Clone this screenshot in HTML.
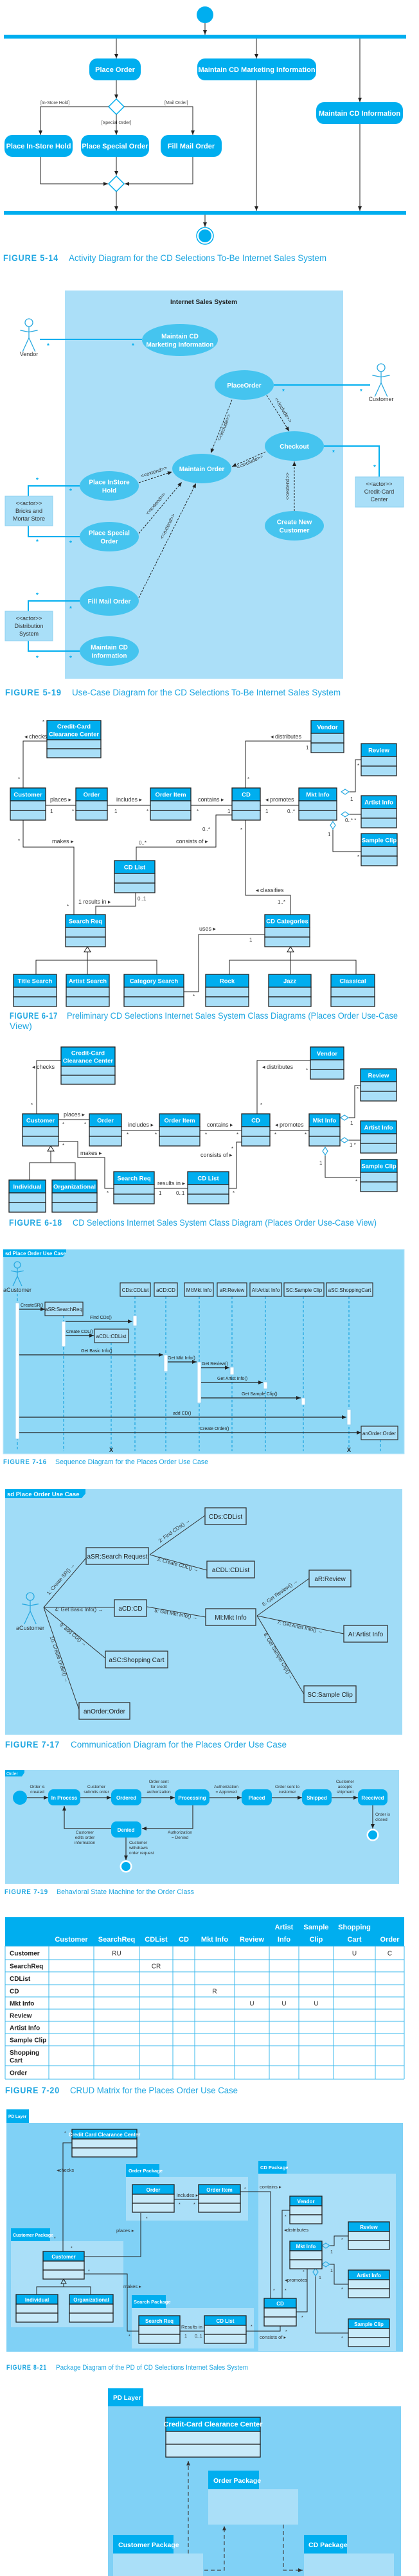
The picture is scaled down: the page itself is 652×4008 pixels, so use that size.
<!DOCTYPE html>
<html><head><meta charset="utf-8"><title>CD Selections UML Figures</title>
<style>
html,body{margin:0;padding:0;background:#fff;}
svg{display:block;font-family:"Liberation Sans",sans-serif;}
</style></head>
<body>
<svg id="c" width="652" height="4008" viewBox="0 0 652 4008" xmlns="http://www.w3.org/2000/svg">
<defs>
<marker id="ar" markerWidth="8" markerHeight="8" refX="7" refY="4" orient="auto" markerUnits="userSpaceOnUse"><path d="M0,1 L7,4 L0,7 z" fill="#222"/></marker>
<marker id="arb" markerWidth="8" markerHeight="8" refX="7" refY="4" orient="auto" markerUnits="userSpaceOnUse"><path d="M0,1 L7,4 L0,7 z" fill="#333"/></marker>
</defs>
</svg>
<script>
const NS='http://www.w3.org/2000/svg';
const svg=document.getElementById('c');
const BLUE='#00AEEF', LB='#A9DFF8', CAP='#1EA6E1', ELL='#45C4EF';

// CRUD matrix data
const crudCols=['Customer','SearchReq','CDList','CD','Mkt Info','Review','Artist Info','Sample Clip','Shopping Cart','Order'];
const crudRows=['Customer','SearchReq','CDList','CD','Mkt Info','Review','Artist Info','Sample Clip','Shopping Cart','Order'];
const crudCells=[
 ['','RU','','','','','','','U','C'],
 ['','','CR','','','','','','',''],
 ['','','','','','','','','',''],
 ['','','','','R','','','','',''],
 ['','','','','','U','U','U','',''],
 ['','','','','','','','','',''],
 ['','','','','','','','','',''],
 ['','','','','','','','','',''],
 ['','','','','','','','','',''],
 ['','','','','','','','','','']
];

function add(tag,attrs,name,inter){
  const el=document.createElementNS(NS,tag);
  for(const k in attrs) el.setAttribute(k,attrs[k]);
  
  
  svg.appendChild(el);
  return el;
}
function R(x,y,w,h,fill,name,o){o=o||{};return add('rect',{x:x,y:y,width:w,height:h,fill:fill,stroke:o.st||'none','stroke-width':o.sw||1,rx:o.rx||0},name,o.i);}
function T(x,y,s,o,name){
  o=o||{};
  const a={x:x,y:y,'font-size':o.s||9,fill:o.f||'#222','text-anchor':o.a||'start','font-weight':o.w||'normal'};
  if(o.tl){a.textLength=o.tl;a.lengthAdjust='spacingAndGlyphs';}
  if(o.rot!==undefined){a.transform='rotate('+o.rot+' '+x+' '+y+')';}
  if(o.ls) a['letter-spacing']=o.ls;
  const el=add('text',a,name||'label',false);
  el.textContent=s;
  return el;
}
function TL(x,y,lines,lh,o,name){lines.forEach((l,i)=>T(x,y+i*lh,l,o,name));}
function L(pts,o,name){o=o||{};
  const a={points:pts.map(p=>p.join(',')).join(' '),fill:'none',stroke:o.c||'#222','stroke-width':o.w||1};
  if(o.d) a['stroke-dasharray']=o.d;
  if(o.m) a['marker-end']='url(#'+o.m+')';
  return add('polyline',a,name||'connector',false);}
function C(cx,cy,r,fill,name,o){o=o||{};return add('circle',{cx:cx,cy:cy,r:r,fill:fill,stroke:o.st||'none','stroke-width':o.sw||1},name,false);}
function cap(y,fig,txt,fx,fw,tx,tw,s){
  T(fx,y,fig,{s:s,f:CAP,w:'bold',tl:fw,ls:1},'figure-number');
  T(tx,y,txt,{s:s,f:CAP,tl:tw},'figure-caption');
}
function act(x,y,w,h,label,name){
  R(x,y,w,h,BLUE,name,{rx:12});
  T(x+w/2,y+h/2+4,label,{s:11,f:'#fff',a:'middle',w:'bold'},name+'-label');
}
function diamond(cx,cy,name){add('polygon',{points:`${cx},${cy-12} ${cx+12},${cy} ${cx},${cy+12} ${cx-12},${cy}`,fill:'#fff',stroke:BLUE,'stroke-width':1.5},name,false);}
function ell(cx,cy,rx,ry,lines,name){
  add('ellipse',{cx:cx,cy:cy,rx:rx,ry:ry,fill:ELL},name,true);
  const n=lines.length; lines.forEach((l,i)=>T(cx,cy+4+(i-(n-1)/2)*13,l,{s:10,f:'#fff',a:'middle',w:'bold'},name+'-label'));
}
function actor(x,hy,r,len,label,ly,name){
  C(x,hy,r,'none',name+'-head',{st:'#29A9E0',sw:1.3});
  L([[x,hy+r],[x,hy+r+len*0.45]],{c:'#29A9E0',w:1.3},name+'-body');
  L([[x-len*0.35,hy+r+len*0.15],[x,hy+r+len*0.22],[x+len*0.35,hy+r+len*0.15]],{c:'#29A9E0',w:1.3},name+'-arms');
  L([[x-len*0.25,hy+r+len],[x,hy+r+len*0.45],[x+len*0.25,hy+r+len]],{c:'#29A9E0',w:1.3},name+'-legs');
  T(x,ly,label,{s:9,a:'middle',f:'#333'},name+'-label');
}
function cls(x,y,w,label,name,o){
  o=o||{};const hh=o.hh||20,ch=o.ch||15,cf=o.cf||LB;
  R(x,y,w,hh,BLUE,name+'-header',{st:'#222',sw:1.3});
  R(x,y+hh,w,ch,cf,name+'-attributes',{st:'#222',sw:1.3});
  R(x,y+hh+ch,w,ch,cf,name+'-operations',{st:'#222',sw:1.3});
  const ls=Array.isArray(label)?label:[label];
  ls.forEach((l,i)=>T(x+w/2,y+(hh/2+3.5)+(i-(ls.length-1)/2)*12,l,{s:o.s||9.5,f:'#fff',a:'middle',w:'bold'},name+'-name'));
}
function lbl(x1,y1,x2,y2,s,off,name,o){
  o=o||{};
  const ang=Math.atan2(y2-y1,x2-x1)*180/Math.PI;
  const t=o.t||0.5;
  const mx=x1+(x2-x1)*t, my=y1+(y2-y1)*t;
  const nx=-(y2-y1),ny=(x2-x1),nl=Math.hypot(nx,ny);
  let a=ang; if(a>90)a-=180; if(a<-90)a+=180;
  T(mx+nx/nl*off,my+ny/nl*off,s,{s:o.s||8,a:'middle',rot:a,f:'#333'},name);
}
function star(x,y){T(x,y,'*',{s:10,f:BLUE,a:'middle',w:'bold'},'multiplicity-star');}

/* ===== FIGURE 5-14 Activity ===== */
C(319,23,13,BLUE,'initial-node');
L([[319,36],[319,54]],{m:'ar'},'flow-start');
R(6,54,626,6,BLUE,'fork-bar');
act(139,91,80,34,'Place Order','place-order-activity');
act(307,91,185,34,'Maintain CD Marketing Information','maintain-cd-marketing-activity');
act(492,159,135,34,'Maintain CD Information','maintain-cd-info-activity');
L([[181,60],[181,91]],{m:'ar'},'flow');
L([[399,60],[399,91]],{m:'ar'},'flow');
L([[560,60],[560,159]],{m:'ar'},'flow');
L([[181,125],[181,154]],{m:'ar'},'flow');
diamond(181,166,'decision-node');
L([[169,166],[63,166],[63,210]],{m:'ar'},'flow-instore');
L([[193,166],[300,166],[300,210]],{m:'ar'},'flow-mail');
L([[181,178],[181,210]],{m:'ar'},'flow-special');
T(63,162,'[In-Store Hold]',{s:7,f:'#444'},'guard-instore');
T(256,162,'[Mail Order]',{s:7,f:'#444'},'guard-mail');
T(181,193,'[Special Order]',{s:7,f:'#444',a:'middle'},'guard-special');
act(7,210,106,34,'Place In-Store Hold','place-instore-hold-activity');
act(126,210,106,34,'Place Special Order','place-special-order-activity');
act(250,210,95,34,'Fill Mail Order','fill-mail-order-activity');
L([[63,244],[63,286],[168,286]],{m:'ar'},'flow');
L([[181,244],[181,273]],{m:'ar'},'flow');
L([[300,244],[300,286],[194,286]],{m:'ar'},'flow');
diamond(181,286,'merge-node');
L([[181,298],[181,328]],{m:'ar'},'flow');
L([[399,125],[399,328]],{m:'ar'},'flow');
L([[560,193],[560,328]],{m:'ar'},'flow');
R(6,328,626,6,BLUE,'join-bar');
L([[319,334],[319,353]],{m:'ar'},'flow-end');
C(319,367,13,'#fff','final-node-ring',{st:BLUE,sw:1.5});
C(319,367,10,BLUE,'final-node');
cap(406,'FIGURE 5-14','Activity Diagram for the CD Selections To-Be Internet Sales System',5,86,107,401,14);

/* ===== FIGURE 5-19 Use Case ===== */
R(101,452,433,604,'#ABDFF8','system-boundary');
T(317,473,'Internet Sales System',{s:10,a:'middle',w:'bold'},'system-title');
actor(45,502,6,39,'Vendor',554,'vendor-actor');
actor(593,572,6,39,'Customer',624,'customer-actor');
L([[62,528],[221,528]],{c:BLUE,w:2},'vendor-association');
L([[426,599],[576,599]],{c:BLUE,w:2},'customer-association');
L([[504,694],[590,694],[590,742]],{c:BLUE,w:2},'creditcard-association');
L([[124,756],[44,756],[44,772]],{c:BLUE,w:2},'bricks-association');
L([[44,818],[44,835],[124,835]],{c:BLUE,w:2},'bricks-association-2');
L([[124,935],[44,935],[44,951]],{c:BLUE,w:2},'distribution-association');
L([[44,997],[44,1013],[124,1013]],{c:BLUE,w:2},'distribution-association-2');
R(553,742,75,47,'#A9DFF8','credit-card-actor',{st:'#8fd0f0'});
TL(590,756,['<<actor>>','Credit-Card','Center'],12,{s:9,a:'middle',f:'#333'},'credit-card-actor-label');
R(8,772,74,46,'#A9DFF8','bricks-mortar-actor',{st:'#8fd0f0'});
TL(45,786,['<<actor>>','Bricks and','Mortar Store'],12,{s:9,a:'middle',f:'#333'},'bricks-mortar-label');
R(8,951,74,46,'#A9DFF8','distribution-actor',{st:'#8fd0f0'});
TL(45,965,['<<actor>>','Distribution','System'],12,{s:9,a:'middle',f:'#333'},'distribution-label');
L([[361,622],[328,705]],{d:'3,2',m:'ar'},'include-dep');
lbl(361,622,328,705,'<<include>>',-7,'include-label');
L([[415,615],[450,671]],{d:'3,2',m:'ar'},'include-dep');
lbl(415,615,450,671,'<<include>>',-7,'include-label');
L([[413,703],[361,726]],{d:'3,2',m:'ar'},'include-dep');
lbl(413,703,361,726,'<<include>>',-7,'include-label');
L([[216,751],[268,734]],{d:'3,2',m:'ar'},'extend-dep');
lbl(216,751,268,734,'<<extend>>',-6,'extend-label');
L([[216,830],[283,750]],{d:'3,2',m:'ar'},'extend-dep');
lbl(216,830,283,750,'<<extend>>',-7,'extend-label');
L([[216,930],[305,752]],{d:'3,2',m:'ar'},'extend-dep');
lbl(216,930,305,752,'<<extend>>',-7,'extend-label',{t:0.6});
L([[458,795],[458,718]],{d:'3,2',m:'ar'},'extend-dep');
lbl(458,795,458,718,'<<extend>>',-8,'extend-label');
ell(280,529,59,25,['Maintain CD','Marketing Information'],'maintain-cd-marketing-usecase');
ell(380,599,46,23,['PlaceOrder'],'place-order-usecase');
ell(458,694,46,23,['Checkout'],'checkout-usecase');
ell(314,729,46,23,['Maintain Order'],'maintain-order-usecase');
ell(170,756,46,23,['Place InStore','Hold'],'place-instore-hold-usecase');
ell(170,835,46,23,['Place Special','Order'],'place-special-order-usecase');
ell(458,818,46,23,['Create New','Customer'],'create-new-customer-usecase');
ell(170,935,46,23,['Fill Mail Order'],'fill-mail-order-usecase');
ell(170,1013,46,23,['Maintain CD','Information'],'maintain-cd-info-usecase');
[[75,541],[207,541],[441,612],[562,612],[519,707],[583,730],[58,750],[110,767],[58,846],[110,848],[58,929],[110,950],[58,1027],[110,1027]].forEach(p=>star(p[0],p[1]));
cap(1082,'FIGURE 5-19','Use-Case Diagram for the CD Selections To-Be Internet Sales System',8,88,112,418,14);

/* ===== FIGURE 6-17 Class diagram ===== */
L([[36,1226],[36,1153],[73,1153]],{},'checks-assoc');
T(38,1149,'◂ checks',{s:9,f:'#333'},'checks-label');
L([[382,1226],[382,1153],[484,1153]],{},'distributes-assoc');
T(421,1149,'◂ distributes',{s:9,f:'#333'},'distributes-label');
L([[71,1253],[118,1253]],{},'places-assoc'); T(78,1247,'places ▸',{s:9,f:'#333'},'places-label');
L([[167,1253],[234,1253]],{},'includes-assoc'); T(181,1247,'includes ▸',{s:9,f:'#333'},'includes-label');
L([[297,1253],[361,1253]],{},'contains-assoc'); T(308,1247,'contains ▸',{s:9,f:'#333'},'contains-label');
L([[405,1253],[465,1253]],{},'promotes-assoc'); T(413,1247,'◂ promotes',{s:9,f:'#333'},'promotes-label');
L([[543,1232],[553,1232],[553,1182],[562,1182]],{},'review-aggregation');
L([[543,1267],[562,1267]],{},'artist-aggregation');
L([[518,1290],[518,1325],[562,1325]],{},'sample-aggregation');
[[537,1232],[537,1267]].forEach(p=>add('polygon',{points:`${p[0]-6},${p[1]} ${p[0]},${p[1]-4} ${p[0]+6},${p[1]} ${p[0]},${p[1]+4}`,fill:'#fff',stroke:'#29A9E0','stroke-width':1.2},'aggregation-diamond',false));
add('polygon',{points:`518,1278 522,1284 518,1290 514,1284`,fill:'#fff',stroke:'#29A9E0','stroke-width':1.2},'aggregation-diamond',false);
L([[361,1268],[336,1268],[336,1318],[212,1318],[212,1339]],{},'consists-assoc');
T(274,1312,'consists of ▸',{s:9,f:'#333'},'consists-label');
L([[211,1388],[211,1410],[149,1410],[149,1423]],{},'results-assoc');
T(122,1406,'1 results in ▸',{s:9,f:'#333'},'results-label');
L([[36,1276],[36,1318],[115,1318],[115,1423]],{},'makes-assoc');
T(81,1312,'makes ▸',{s:9,f:'#333'},'makes-label');
L([[382,1276],[382,1393],[452,1393],[452,1423]],{},'classifies-assoc');
T(398,1388,'◂ classifies',{s:9,f:'#333'},'classifies-label');
L([[286,1543],[309,1543],[309,1454],[412,1454]],{},'uses-assoc');
T(310,1448,'uses ▸',{s:9,f:'#333'},'uses-label');
L([[136,1480],[136,1494]],{},'gen'); L([[56,1516],[56,1494],[244,1494],[244,1516]],{},'gen-bar'); L([[136,1494],[136,1516]],{},'gen');
L([[452,1480],[452,1494]],{},'gen'); L([[357,1516],[357,1494],[554,1494],[554,1516]],{},'gen-bar'); L([[452,1494],[452,1516]],{},'gen');
add('polygon',{points:'136,1473 131,1481 141,1481',fill:'#fff',stroke:'#222'},'generalization-arrow',false);
add('polygon',{points:'452,1473 447,1481 457,1481',fill:'#fff',stroke:'#222'},'generalization-arrow',false);
cls(73,1121,84,['Credit-Card','Clearance Center'],'credit-card-class',{hh:30,ch:14});
cls(484,1121,51,'Vendor','vendor-class');
cls(562,1157,55,'Review','review-class');
cls(16,1226,55,'Customer','customer-class');
cls(118,1226,49,'Order','order-class');
cls(234,1226,63,'Order Item','order-item-class');
cls(361,1226,44,'CD','cd-class');
cls(465,1226,59,'Mkt Info','mkt-info-class');
cls(562,1238,55,'Artist Info','artist-info-class');
cls(562,1297,56,'Sample Clip','sample-clip-class');
cls(178,1339,63,'CD List','cd-list-class');
cls(102,1423,62,'Search Req','search-req-class');
cls(412,1423,70,'CD Categories','cd-categories-class');
cls(21,1516,67,'Title Search','title-search-class');
cls(103,1516,67,'Artist Search','artist-search-class');
cls(193,1516,93,'Category Search','category-search-class');
cls(320,1516,67,'Rock','rock-class');
cls(418,1516,66,'Jazz','jazz-class');
cls(515,1516,68,'Classical','classical-class');
[[66,1126,'*'],[28,1215,'*'],[78,1265,'1'],[112,1265,'*'],[178,1265,'1'],[228,1265,'*'],[306,1265,'*'],[354,1265,'1'],[413,1265,'1'],[447,1265,'0..*'],[476,1166,'1'],[385,1215,'*'],[556,1194,'*'],[545,1246,'1'],[537,1279,'0..*  *'],[510,1301,'1'],[556,1336,'*'],[315,1293,'0..*'],[216,1314,'0..*'],[214,1401,'0..1'],[104,1413,'*'],[28,1311,'*'],[374,1294,'*'],[432,1406,'1..*'],[388,1465,'1'],[300,1553,'*']].forEach(m=>T(m[0],m[1],m[2],{s:8,f:'#333'},'multiplicity'));
cap(1585,'FIGURE 6-17','Preliminary CD Selections Internet Sales System Class Diagrams (Places Order Use-Case',15,75,104,515,14);
T(15,1601,'View)',{s:14,f:CAP},'figure-caption-line2');

/* ===== FIGURE 6-18 ===== */
L([[57,1733],[57,1650],[95,1650]],{},'checks-assoc'); T(50,1663,'◂ checks',{s:9,f:'#333'},'checks-label');
L([[400,1733],[400,1650],[483,1650]],{},'distributes-assoc'); T(408,1663,'◂ distributes',{s:9,f:'#333'},'distributes-label');
L([[91,1742],[139,1742]],{},'places-assoc'); T(99,1737,'places ▸',{s:9,f:'#333'},'places-label');
L([[189,1759],[248,1759]],{},'includes-assoc'); T(199,1753,'includes ▸',{s:9,f:'#333'},'includes-label');
L([[311,1759],[376,1759]],{},'contains-assoc'); T(322,1753,'contains ▸',{s:9,f:'#333'},'contains-label');
L([[420,1759],[481,1759]],{},'promotes-assoc'); T(428,1753,'◂ promotes',{s:9,f:'#333'},'promotes-label');
L([[542,1739],[552,1739],[552,1689],[561,1689]],{},'review-aggregation');
L([[542,1774],[561,1774]],{},'artist-aggregation');
L([[506,1797],[506,1832],[561,1832]],{},'sample-aggregation');
[[536,1739],[536,1774]].forEach(p=>add('polygon',{points:`${p[0]-6},${p[1]} ${p[0]},${p[1]-4} ${p[0]+6},${p[1]} ${p[0]},${p[1]+4}`,fill:'#fff',stroke:'#29A9E0','stroke-width':1.2},'aggregation-diamond',false));
add('polygon',{points:'506,1785 510,1791 506,1797 502,1791',fill:'#fff',stroke:'#29A9E0','stroke-width':1.2},'aggregation-diamond',false);
L([[79,1790],[79,1809]],{},'gen'); L([[46,1836],[46,1809],[117,1809],[117,1836]],{},'gen-bar');
add('polygon',{points:'79,1783 74,1791 84,1791',fill:'#fff',stroke:'#222'},'generalization-arrow',false);
L([[91,1776],[121,1776],[121,1801],[163,1801],[163,1849],[177,1849]],{},'makes-assoc'); T(125,1797,'makes ▸',{s:9,f:'#333'},'makes-label');
L([[240,1849],[292,1849]],{},'results-assoc'); T(245,1844,'results in ▸',{s:9,f:'#333'},'results-label');
L([[356,1849],[368,1849],[368,1777],[376,1777]],{},'consists-assoc'); T(312,1800,'consists of ▸',{s:9,f:'#333'},'consists-label');
cls(95,1629,84,['Credit-Card','Clearance Center'],'credit-card-class-2',{hh:30,ch:14});
cls(483,1629,52,'Vendor','vendor-class-2',{hh:20,ch:15});
cls(561,1663,56,'Review','review-class-2');
cls(35,1733,56,'Customer','customer-class-2');
cls(139,1733,50,'Order','order-class-2');
cls(248,1733,63,'Order Item','order-item-class-2');
cls(376,1733,44,'CD','cd-class-2');
cls(481,1733,48,'Mkt Info','mkt-info-class-2');
cls(561,1744,56,'Artist Info','artist-info-class-2');
cls(561,1804,57,'Sample Clip','sample-clip-class-2');
cls(14,1836,57,'Individual','individual-class');
cls(81,1836,70,'Organizational','organizational-class');
cls(177,1823,63,'Search Req','search-req-class-2');
cls(292,1823,64,'CD List','cd-list-class-2');
[[48,1722,'*'],[97,1752,'*'],[131,1752,'*'],[197,1768,'*'],[241,1768,'*'],[319,1768,'*'],[368,1768,'*'],[427,1768,'*'],[474,1768,'*'],[405,1722,'*'],[476,1668,'*'],[555,1697,'*'],[545,1750,'1'],[544,1784,'1 *'],[497,1812,'1'],[553,1841,'*'],[97,1785,'*'],[166,1859,'*'],[247,1859,'1'],[274,1859,'0..1'],[362,1859,'*'],[360,1790,'*']].forEach(m=>T(m[0],m[1],m[2],{s:8,f:'#333'},'multiplicity'));
cap(1907,'FIGURE 6-18','CD Selections Internet Sales System Class Diagram (Places Order Use-Case View)',14,83,113,473,14);

/* ===== FIGURE 7-16 Sequence ===== */
R(5,1944,624,318,'#8FD8F6','sequence-frame',{st:'#b7e6fa'});
add('polygon',{points:'5,1944 103,1944 103,1951 97,1956 5,1956',fill:BLUE},'frame-tab',false);
T(8,1953,'sd Place Order Use Case',{s:8,f:'#fff',w:'bold'},'frame-title');
actor(27,1968,5,28,'aCustomer',2010,'sequence-customer-actor');
const llX=[27,99,173,210,258,310,361,413,472,543,592];
const llTop=[2013,2047,2089,2017,2017,2017,2017,2017,2017,2017,2240];
llX.forEach((x,i)=>L([[x,llTop[i]],[x,2258]],{c:'#1AA3DE',w:1.2,d:'4,3'},'lifeline'));
[[187,47,'CDs:CDList'],[240,36,'aCD:CD'],[287,45,'MI:Mkt Info'],[338,46,'aR:Review'],[389,49,'AI:Artist Info'],[442,62,'SC:Sample Clip'],[508,72,'aSC:ShoppingCart']].forEach(b=>{R(b[0],1996,b[1],21,'#A9DFF8','lifeline-head',{st:'#333',sw:1.2});T(b[0]+b[1]/2,2010,b[2],{s:8,a:'middle',f:'#222'},'lifeline-label');});
R(70,2026,59,21,'#A9DFF8','search-req-object',{st:'#333',sw:1.2}); T(99,2040,'aSR:SearchReq',{s:8,a:'middle'},'object-label');
R(147,2068,53,21,'#A9DFF8','cdl-object',{st:'#333',sw:1.2}); T(173,2082,'aCDL:CDList',{s:8,a:'middle'},'object-label');
R(562,2219,57,21,'#A9DFF8','order-object',{st:'#333',sw:1.2}); T(590,2233,'anOrder:Order',{s:8,a:'middle'},'object-label');
[[24,2027,212],[96,2056,39],[207,2047,16],[255,2108,26],[307,2119,64],[358,2127,12],[410,2150,11],[469,2175,11],[540,2193,24]].forEach(a=>R(a[0],a[1],6,a[2],'#fff','activation-bar',{st:'#8fd0f0'}));
[[30,70,2037,'CreateSR()',32],[102,206,2056,'Find CDs()',140],[102,146,2078,'Create CDL()',103],[30,254,2108,'Get Basic Info()',126],[261,306,2119,'Get Mkt Info()',261],[313,357,2128,'Get Review()',314],[313,409,2151,'Get Artist Info()',338],[313,468,2175,'Get Sample Clip()',376],[30,539,2205,'add CD()',269],[30,562,2229,'Create Order()',311]].forEach(m=>{L([[m[0],m[2]],[m[1],m[2]]],{w:1.3,m:'ar'},'message');T(m[4],m[2]-4,m[3],{s:7,f:'#222'},'message-label');});
T(173,2259,'X',{s:9,w:'bold',a:'middle'},'destroy-mark'); T(543,2259,'X',{s:9,w:'bold',a:'middle'},'destroy-mark');
cap(2278,'FIGURE 7-16','Sequence Diagram for the Places Order Use Case',5,68,86,238,11);

/* ===== FIGURE 7-17 Communication ===== */
R(8,2317,618,382,'#A0DCF7','communication-frame');
add('polygon',{points:'8,2317 133,2317 133,2324 127,2331 8,2331',fill:BLUE},'frame-tab',false);
T(11,2328,'sd Place Order Use Case',{s:9.5,f:'#fff',w:'bold'},'frame-title');
actor(47,2484,6,37,'aCustomer',2536,'comm-customer-actor');
const links=[[68,2501,134,2424,'1: Create SR() →'],[68,2501,178,2501,'4: Get Basic Info() →'],[68,2501,164,2580,'9: add CD() →'],[68,2501,123,2660,'10. Create Order() →'],[233,2419,319,2358,'2: Find CDs() →'],[233,2419,322,2443,'3: Create CDL() →'],[229,2500,320,2516,'5: Get Mkt Info() →'],[400,2514,481,2456,'6: Get Review() →'],[400,2514,535,2542,'7: Get Artist Info() →'],[400,2514,473,2636,'8: Get Sample Clip() →']];
links.forEach(k=>{L([[k[0],k[1]],[k[2],k[3]]],{c:'#333'},'comm-link'); const up=(k[3]<k[1]); lbl(k[0],k[1],k[2],k[3],k[4],(k[2]-k[0])>0 && !up ? 6 : -6,'comm-message',{s:8});});
[[319,2346,64,'CDs:CDList'],[134,2408,97,'aSR:Search Request'],[322,2429,74,'aCDL:CDList'],[481,2443,65,'aR:Review'],[178,2489,50,'aCD:CD'],[320,2503,78,'MI:Mkt Info'],[535,2529,68,'AI:Artist Info'],[164,2569,97,'aSC:Shopping Cart'],[473,2623,81,'SC:Sample Clip'],[123,2649,79,'anOrder:Order']].forEach(b=>{R(b[0],b[1],b[2],26,'#A9DFF8','comm-object',{st:'#333',sw:1.3});T(b[0]+b[2]/2,b[1]+17,b[3],{s:10,a:'middle',f:'#222'},'comm-object-label');});
cap(2719,'FIGURE 7-17','Communication Diagram for the Places Order Use Case',8,85,110,336,14);

/* ===== FIGURE 7-19 State machine ===== */
R(8,2754,613,177,'#A0DCF7','state-machine-frame');
add('polygon',{points:'8,2754 38,2754 38,2758 34,2764 8,2764',fill:BLUE},'frame-tab',false);
T(10,2762,'Order',{s:7,f:'#fff'},'frame-title');
C(31,2797,11,BLUE,'initial-state');
const states=[[75,50,'In Process'],[173,47,'Ordered'],[272,54,'Processing'],[376,47,'Placed'],[470,46,'Shipped'],[557,46,'Received']];
states.forEach(s=>{R(s[0],2784,s[1],25,BLUE,'state-'+s[2].toLowerCase().replace(' ','-'),{rx:8});T(s[0]+s[1]/2,2800,s[2],{s:8,f:'#fff',a:'middle',w:'bold'},'state-label');});
[[42,75],[125,173],[220,272],[326,376],[423,470],[516,557]].forEach(t=>L([[t[0],2797],[t[1],2797]],{c:'#333',w:1.2,m:'ar'},'transition'));
TL(58,2782,['Order is','created'],8,{s:6.5,a:'middle',f:'#333'},'transition-label');
TL(150,2782,['Customer','submits order'],8,{s:6.5,a:'middle',f:'#333'},'transition-label');
TL(247,2774,['Order sent','for credit','authorization'],8,{s:6.5,a:'middle',f:'#333'},'transition-label');
TL(352,2782,['Authorization','= Approved'],8,{s:6.5,a:'middle',f:'#333'},'transition-label');
TL(447,2782,['Order sent to','customer'],8,{s:6.5,a:'middle',f:'#333'},'transition-label');
TL(537,2774,['Customer','accepts','shipment'],8,{s:6.5,a:'middle',f:'#333'},'transition-label');
R(173,2834,47,25,BLUE,'state-denied',{rx:8}); T(196,2850,'Denied',{s:8,f:'#fff',a:'middle',w:'bold'},'state-label');
L([[300,2809],[300,2845],[221,2845]],{c:'#333',w:1.2,m:'ar'},'transition');
L([[173,2845],[100,2845],[100,2810]],{c:'#333',w:1.2,m:'ar'},'transition');
L([[196,2859],[196,2894]],{c:'#333',w:1.2,m:'ar'},'transition');
L([[580,2809],[580,2845]],{c:'#333',w:1.2,m:'ar'},'transition');
TL(280,2853,['Authorization','= Denied'],8,{s:6.5,a:'middle',f:'#333'},'transition-label');
TL(132,2853,['Customer','edits order','information'],8,{s:6.5,a:'middle',f:'#333'},'transition-label');
TL(201,2869,['Customer','withdraws','order request'],8,{s:6.5,f:'#333'},'transition-label');
TL(584,2825,['Order is','closed'],8,{s:6.5,f:'#333'},'transition-label');
C(196,2904,9,'#fff','final-state-ring',{st:'#fff'}); C(196,2904,7,BLUE,'final-state');
C(580,2855,9,'#fff','final-state-ring',{st:'#fff'}); C(580,2855,7,BLUE,'final-state');
cap(2947,'FIGURE 7-19','Behavioral State Machine for the Order Class',7,68,88,214,11);

/* ===== FIGURE 7-20 CRUD ===== */
const colEdges=[8,76,146,217,269,303,365,419,465,519,584,629];
const rowEdges=[3028,3049,3068,3088,3107,3126,3145,3164,3183,3214,3235];
R(8,2983,621,45,BLUE,'crud-header');
R(8,3028,621,207,'#fff','crud-body');
crudCols.forEach((c,i)=>{const cx=(colEdges[i+1]+colEdges[i+2])/2; const parts=c.split(' '); if(parts.length===2&&c!=='Mkt Info'){T(cx,3002,parts[0],{s:11,f:'#fff',a:'middle',w:'bold'},'crud-col-header');T(cx,3021,parts[1],{s:11,f:'#fff',a:'middle',w:'bold'},'crud-col-header');}else T(cx,3021,c,{s:11,f:'#fff',a:'middle',w:'bold'},'crud-col-header');});
rowEdges.forEach(y=>L([[8,y],[629,y]],{c:'#3BB8EC',w:1},'crud-row-line'));
colEdges.forEach(x=>L([[x,3028],[x,3235]],{c:'#3BB8EC',w:1},'crud-col-line'));
crudRows.forEach((r,i)=>{const y0=rowEdges[i],y1=rowEdges[i+1];
  if(r==='Shopping Cart'){T(15,3197,'Shopping',{s:10,w:'bold'},'crud-row-header');T(15,3209,'Cart',{s:10,w:'bold'},'crud-row-header');}
  else T(15,(y0+y1)/2+4,r,{s:10,w:'bold'},'crud-row-header');
  crudCells[i].forEach((v,j)=>{if(v)T((colEdges[j+1]+colEdges[j+2])/2,(y0+y1)/2+4,v,{s:10,a:'middle',f:'#333'},'crud-cell');});
});
cap(3257,'FIGURE 7-20','CRUD Matrix for the Places Order Use Case',8,85,109,261,14);

/* ===== FIGURE 8-21 Package ===== */
const PB='#80D1F6', PL='#AADFF8', CC='#C8EAF9';
R(10,3282,35,21,BLUE,'pd-layer-tab'); T(13,3295,'PD Layer',{s:6.5,f:'#fff',w:'bold'},'tab-label');
R(10,3303,617,356,PB,'pd-layer-frame');
R(196,3367,52,20,BLUE,'order-package-tab'); T(200,3380,'Order Package',{s:7.5,f:'#fff',w:'bold'},'tab-label');
R(196,3387,190,68,PL,'order-package');
R(402,3362,44,20,BLUE,'cd-package-tab'); T(405,3375,'CD Package',{s:7.5,f:'#fff',w:'bold'},'tab-label');
R(402,3382,214,276,PL,'cd-package');
R(17,3467,61,20,BLUE,'customer-package-tab'); T(20,3480,'Customer Package',{s:7,f:'#fff',w:'bold'},'tab-label');
R(17,3487,175,134,PL,'customer-package');
R(205,3571,53,20,BLUE,'search-package-tab'); T(208,3584,'Search Package',{s:7.5,f:'#fff',w:'bold'},'tab-label');
R(205,3591,190,63,PL,'search-package');
L([[98,3503],[98,3334],[112,3334]],{},'checks-assoc'); T(88,3379,'◂checks',{s:7.5,f:'#333'},'checks-label');
L([[131,3511],[219,3511],[219,3443]],{},'places-assoc'); T(181,3473,'places ▸',{s:7.5,f:'#333'},'places-label');
L([[271,3422],[309,3422]],{},'includes-assoc'); T(275,3418,'includes ▸',{s:7.5,f:'#333'},'includes-label');
L([[374,3410],[421,3410],[421,3576]],{},'contains-assoc'); T(404,3405,'contains ▸',{s:7.5,f:'#333'},'contains-label');
L([[131,3538],[198,3538],[198,3627],[216,3627]],{},'makes-assoc'); T(192,3560,'makes ▸',{s:7.5,f:'#333'},'makes-label');
L([[280,3627],[318,3627]],{},'results-assoc'); T(282,3623,'Results in ▸',{s:7.5,f:'#333'},'results-label');
L([[383,3627],[436,3627],[436,3618]],{},'consists-assoc'); T(404,3639,'consists of ▸',{s:7.5,f:'#333'},'consists-label');
L([[439,3576],[439,3439],[451,3439]],{},'distributes-assoc'); T(442,3472,'◂distributes',{s:7.5,f:'#333'},'distributes-label');
L([[461,3597],[478,3597],[478,3529]],{},'promotes-assoc'); T(443,3550,'◂promotes',{s:7.5,f:'#333'},'promotes-label');
L([[513,3494],[520,3494],[520,3479],[542,3479]],{},'review-aggregation');
L([[513,3523],[520,3523],[520,3554],[542,3554]],{},'artist-aggregation');
L([[491,3541],[491,3630],[542,3630]],{},'sample-aggregation');
[[507,3494],[507,3523]].forEach(p=>add('polygon',{points:`${p[0]-6},${p[1]} ${p[0]},${p[1]-4} ${p[0]+6},${p[1]} ${p[0]},${p[1]+4}`,fill:PL,stroke:'#29A9E0','stroke-width':1.2},'aggregation-diamond',false));
add('polygon',{points:'491,3529 495,3535 491,3541 487,3535',fill:PL,stroke:'#29A9E0','stroke-width':1.2},'aggregation-diamond',false);
L([[99,3552],[99,3558]],{},'gen'); L([[57,3570],[57,3558],[141,3558],[141,3570]],{},'gen-bar');
add('polygon',{points:'99,3546 95,3553 103,3553',fill:PL,stroke:'#222'},'generalization-arrow',false);
cls(112,3313,101,'Credit Card Clearance Center','credit-card-class-3',{hh:15,ch:14,cf:CC,s:8});
cls(206,3399,65,'Order','order-class-3',{hh:15,ch:14,cf:CC,s:8});
cls(309,3399,65,'Order Item','order-item-class-3',{hh:15,ch:14,cf:CC,s:8});
cls(451,3417,50,'Vendor','vendor-class-3',{hh:15,ch:14,cf:CC,s:8});
cls(542,3457,64,'Review','review-class-3',{hh:15,ch:14,cf:CC,s:8});
cls(451,3487,50,'Mkt Info','mkt-info-class-3',{hh:15,ch:14,cf:CC,s:8});
cls(542,3532,64,'Artist Info','artist-info-class-3',{hh:15,ch:14,cf:CC,s:8});
cls(411,3576,50,'CD','cd-class-3',{hh:15,ch:14,cf:CC,s:8});
cls(542,3608,64,'Sample Clip','sample-clip-class-3',{hh:15,ch:14,cf:CC,s:8});
cls(67,3503,64,'Customer','customer-class-3',{hh:15,ch:14,cf:CC,s:8});
cls(25,3570,65,'Individual','individual-class-3',{hh:15,ch:14,cf:CC,s:8});
cls(108,3570,68,'Organizational','organizational-class-3',{hh:15,ch:14,cf:CC,s:8});
cls(216,3603,64,'Search Req','search-req-class-3',{hh:15,ch:14,cf:CC,s:8});
cls(318,3603,65,'CD List','cd-list-class-3',{hh:15,ch:14,cf:CC,s:8});
[[100,3321,'*'],[84,3485,'*'],[110,3500,'*'],[137,3536,'*'],[227,3454,'*'],[278,3432,'*'],[301,3432,'*'],[380,3408,'*'],[443,3451,'*'],[471,3537,'*'],[425,3566,'*'],[443,3566,'*'],[531,3487,'*'],[514,3506,'1'],[514,3535,'1'],[531,3564,'*'],[496,3546,'1'],[531,3640,'*'],[469,3608,'*'],[390,3622,'*'],[444,3630,'*'],[200,3637,'*'],[287,3637,'1'],[303,3637,'0..1']].forEach(m=>T(m[0],m[1],m[2],{s:7,f:'#333'},'multiplicity'));
cap(3687,'FIGURE 8-21','Package Diagram of the PD of CD Selections Internet Sales System',10,63,87,299,11);

/* ===== Final package overview ===== */
R(168,3716,55,28,BLUE,'pd-layer-tab-2'); T(176,3734,'PD Layer',{s:10,f:'#fff',w:'bold'},'tab-label');
R(168,3744,456,264,PB,'pd-layer-frame-2');
cls(258,3761,147,'Credit-Card Clearance Center','credit-card-class-4',{hh:22,ch:20,cf:CC,s:11});
R(324,3844,79,29,BLUE,'order-package-tab-2'); T(332,3863,'Order Package',{s:10.5,f:'#fff',w:'bold'},'tab-label');
R(324,3873,140,55,PL,'order-package-2');
R(176,3944,94,29,BLUE,'customer-package-tab-2'); T(184,3963,'Customer Package',{s:10.5,f:'#fff',w:'bold'},'tab-label');
R(176,3973,140,35,PL,'customer-package-2');
R(473,3944,67,29,BLUE,'cd-package-tab-2'); T(480,3963,'CD Package',{s:10.5,f:'#fff',w:'bold'},'tab-label');
R(473,3973,140,35,PL,'cd-package-2');
L([[293,3973],[293,3829]],{c:'#444',w:1.2,d:'6,4',m:'arb'},'dependency');
L([[318,3999],[349,3999],[349,3930]],{c:'#444',w:1.2,d:'6,4',m:'arb'},'dependency');
L([[441,3928],[441,3999],[471,3999]],{c:'#444',w:1.2,d:'6,4',m:'arb'},'dependency');
</script>
</body></html>
